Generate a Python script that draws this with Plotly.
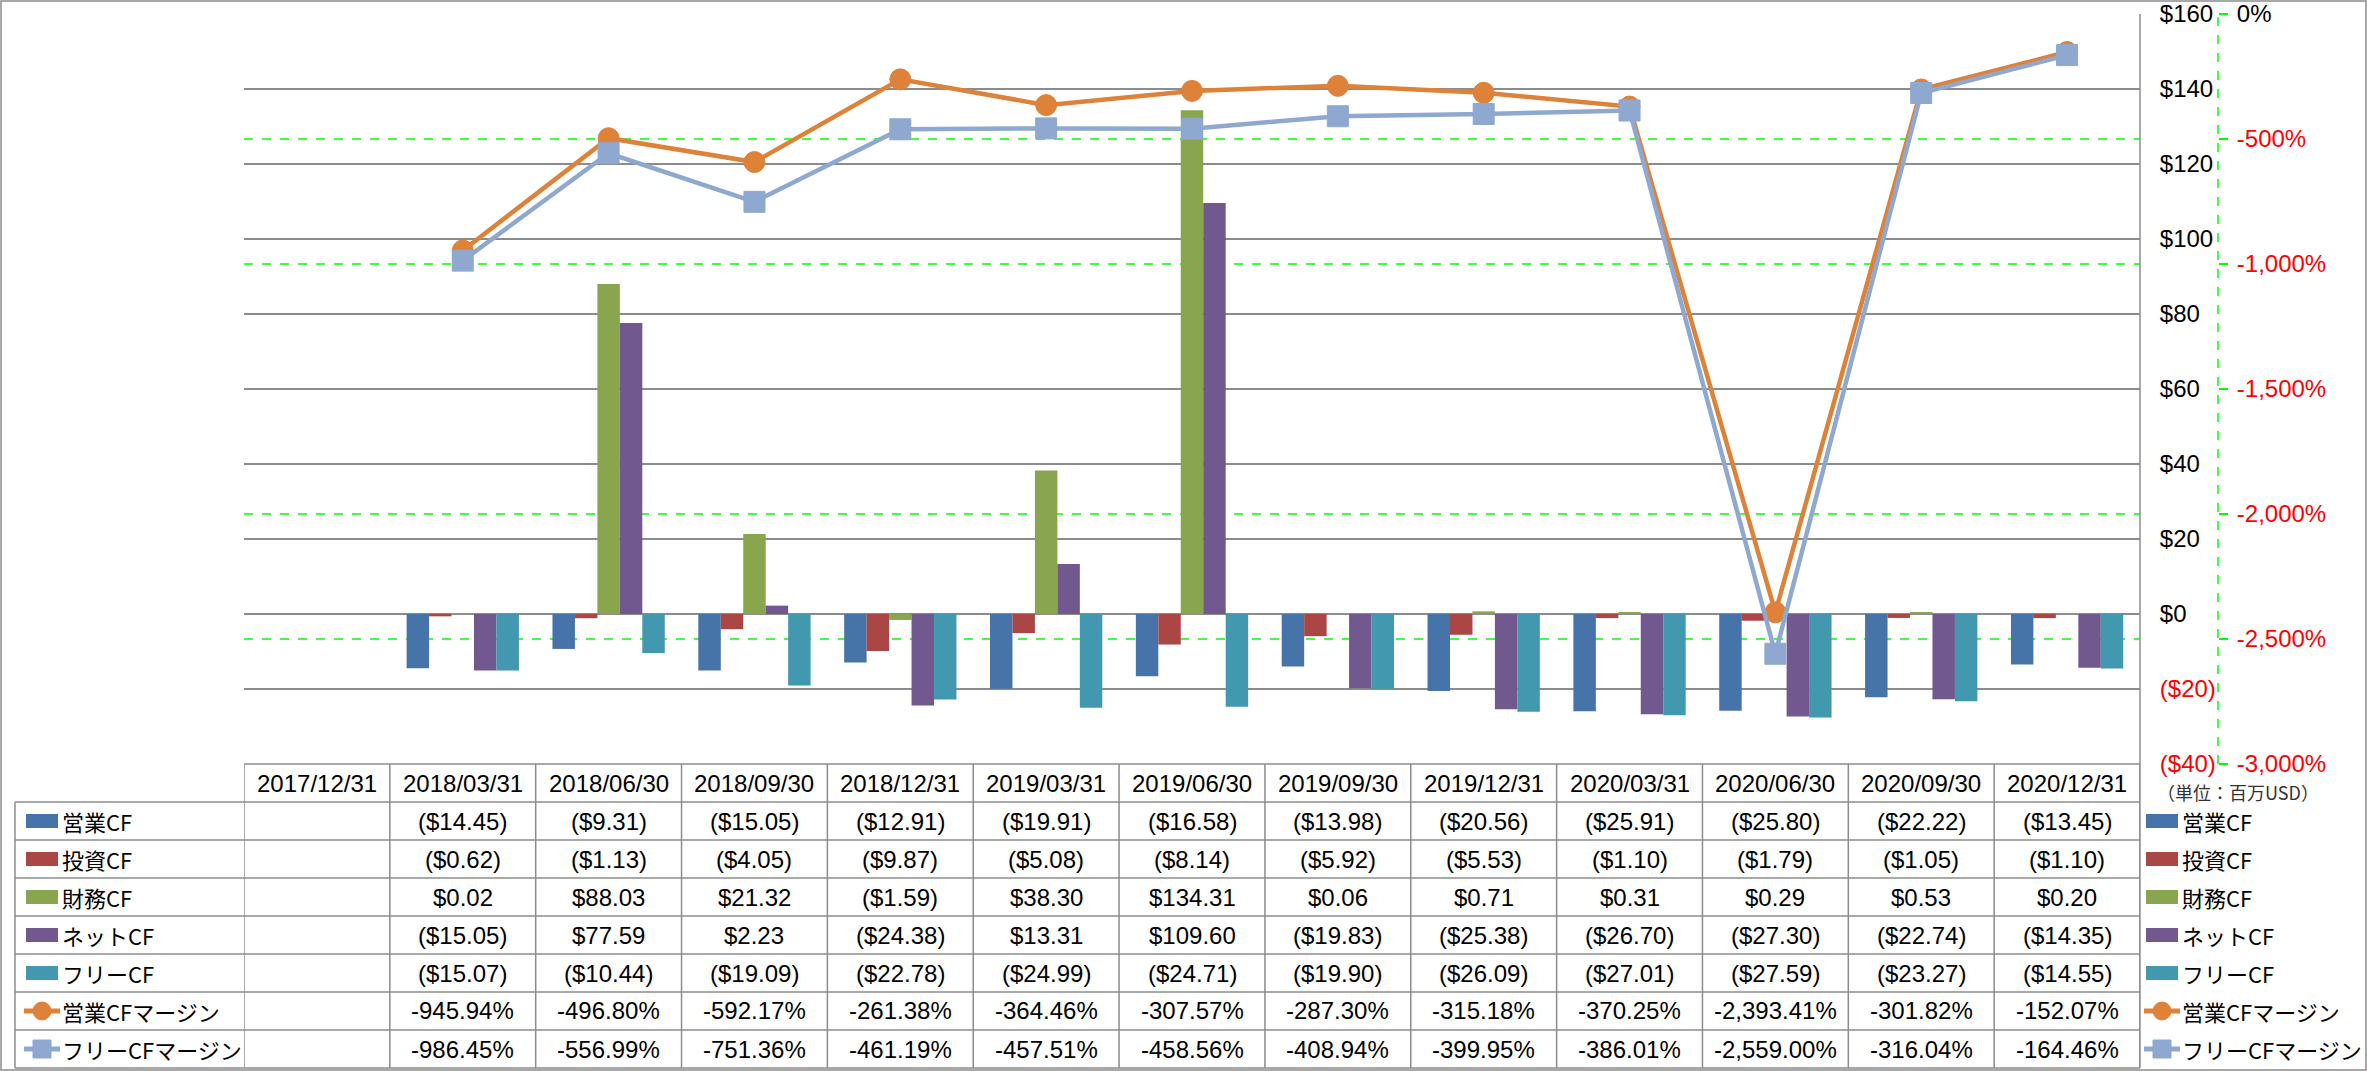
import plotly.graph_objects as go

dates = ["2017/12/31", "2018/03/31", "2018/06/30", "2018/09/30", "2018/12/31",
         "2019/03/31", "2019/06/30", "2019/09/30", "2019/12/31", "2020/03/31",
         "2020/06/30", "2020/09/30", "2020/12/31"]

op_cf = [None, -14.45, -9.31, -15.05, -12.91, -19.91, -16.58, -13.98, -20.56, -25.91, -25.80, -22.22, -13.45]
inv_cf = [None, -0.62, -1.13, -4.05, -9.87, -5.08, -8.14, -5.92, -5.53, -1.10, -1.79, -1.05, -1.10]
fin_cf = [None, 0.02, 88.03, 21.32, -1.59, 38.30, 134.31, 0.06, 0.71, 0.31, 0.29, 0.53, 0.20]
net_cf = [None, -15.05, 77.59, 2.23, -24.38, 13.31, 109.60, -19.83, -25.38, -26.70, -27.30, -22.74, -14.35]
free_cf = [None, -15.07, -10.44, -19.09, -22.78, -24.99, -24.71, -19.90, -26.09, -27.01, -27.59, -23.27, -14.55]
op_margin = [None, -945.94, -496.80, -592.17, -261.38, -364.46, -307.57, -287.30, -315.18, -370.25, -2393.41, -301.82, -152.07]
free_margin = [None, -986.45, -556.99, -751.36, -461.19, -457.51, -458.56, -408.94, -399.95, -386.01, -2559.00, -316.04, -164.46]

bar_series = [
    ("営業CF", op_cf, "#4673A8"),
    ("投資CF", inv_cf, "#AA4644"),
    ("財務CF", fin_cf, "#89A54E"),
    ("ネットCF", net_cf, "#71588F"),
    ("フリーCF", free_cf, "#4198AF"),
]
line_series = [
    ("営業CFマージン", op_margin, "#DE8139", "circle"),
    ("フリーCFマージン", free_margin, "#8EA8D0", "square"),
]

usd_ticks = list(range(-40, 161, 20))
pct_ticks = list(range(-3000, 1, 500))

FONT = "Liberation Sans, Noto Sans CJK JP, sans-serif"
JP_FONT = "Noto Sans CJK JP"
GRID = "#8C8C8C"
NUM_SIZE = 24
JP_SIZE = 22

# pixel frame: plot area is L..R, T..B; the paper extends to PR so the % axis fits in it
FW, FH = 2367, 1071
L, R, T, B = 244, 2140, 14, 764
PR = 2300
PW, H = PR - L, B - T
ROW_H = 38


def px(x):
    return (x - L) / PW


def py(y):
    return (B - y) / H


def money(v):
    if v is None:
        return ""
    return f"${v:,.2f}" if v >= 0 else f"(${-v:,.2f})"


def pct(v):
    if v is None:
        return ""
    return f"{v:,.2f}%"


def red(s, cond):
    return f'<span style="color:red">{s}</span>' if cond else s


fig = go.Figure()

for name, vals, col in bar_series:
    fig.add_trace(go.Bar(x=dates, y=vals, name=name, marker=dict(color=col, line=dict(width=0)),
                         showlegend=False))

for name, vals, col, sym in line_series:
    fig.add_trace(go.Scatter(x=dates, y=vals, name=name, yaxis="y2", mode="lines+markers",
                             line=dict(color=col, width=4.5),
                             marker=dict(symbol=sym, size=21, color=col, line=dict(color=col, width=1)),
                             showlegend=False))

shapes = []
annotations = []

# green dashed gridlines for the % axis
for v in pct_ticks[1:-1]:
    shapes.append(dict(type="line", xref="x domain", yref="y2", x0=0, x1=1, y0=v, y1=v,
                       line=dict(color="#00FF00", width=1.5, dash="dash"), layer="below"))

# % axis line (dashed green)
ax2_pos = px(2218)
shapes.append(dict(type="line", xref="paper", yref="paper", x0=ax2_pos, x1=ax2_pos, y0=0, y1=1,
                   line=dict(color="#00FF00", width=1.5, dash="dash")))

# plot right border, running down through the table
shapes.append(dict(type="line", xref="paper", yref="paper", x0=px(R), x1=px(R), y0=1, y1=py(1068),
                   line=dict(color=GRID, width=1.5)))

# table grid
table_rows = [(n, [money(v) for v in vals], ("bar", c)) for n, vals, c in bar_series]
table_rows += [(n, [pct(v) for v in vals], ("line", c, s)) for n, vals, c, s in line_series]

table_bottom = B + ROW_H * (len(table_rows) + 1)
shapes.append(dict(type="line", xref="paper", yref="paper", x0=0, x1=px(R), y0=py(B), y1=py(B),
                   line=dict(color=GRID, width=1.5)))
for k in range(len(table_rows) + 1):
    yy = py(B + ROW_H * (k + 1))
    shapes.append(dict(type="line", xref="paper", yref="paper", x0=px(15), x1=px(R), y0=yy, y1=yy,
                       line=dict(color=GRID, width=1.5)))
for i in range(len(dates) + 1):
    shapes.append(dict(type="line", xref="x", yref="paper", x0=i - 0.5, x1=i - 0.5,
                       y0=py(B), y1=py(table_bottom), line=dict(color=GRID, width=1.5)))
shapes.append(dict(type="line", xref="paper", yref="paper", x0=px(15), x1=px(15),
                   y0=py(B + ROW_H), y1=py(table_bottom), line=dict(color=GRID, width=1.5)))

# outer border
shapes.append(dict(type="rect", xref="paper", yref="paper", x0=px(1), x1=px(FW - 1), y0=py(1), y1=py(FH - 1),
                   line=dict(color=GRID, width=1.5)))

# header dates
for d in dates:
    annotations.append(dict(xref="x", yref="paper", x=d, y=py(B + ROW_H / 2), text=d, showarrow=False,
                            xanchor="center", yanchor="middle", font=dict(size=NUM_SIZE, color="black")))

annotations.append(dict(xref="paper", yref="paper", x=px(2155), y=py(792), text="（単位：百万USD）",
                        showarrow=False, xanchor="left", yanchor="middle",
                        font=dict(size=18, color="#333333", family=JP_FONT)))


def legend_key(x0, yc, spec):
    if spec[0] == "bar":
        shapes.append(dict(type="rect", xref="paper", yref="paper", x0=px(x0), x1=px(x0 + 32),
                           y0=py(yc - 7), y1=py(yc + 7), fillcolor=spec[1], line=dict(width=0)))
    else:
        col, sym = spec[1], spec[2]
        shapes.append(dict(type="line", xref="paper", yref="paper", x0=px(x0 - 2), x1=px(x0 + 34),
                           y0=py(yc), y1=py(yc), line=dict(color=col, width=5)))
        cx = x0 + 16
        shapes.append(dict(type="circle" if sym == "circle" else "rect", xref="paper", yref="paper",
                           x0=px(cx - 9), x1=px(cx + 9), y0=py(yc - 9), y1=py(yc + 9),
                           fillcolor=col, line=dict(color=col, width=1)))


for r, (name, cells, spec) in enumerate(table_rows):
    yc = B + ROW_H * (r + 1) + ROW_H / 2
    for d, txt in zip(dates, cells):
        if txt:
            annotations.append(dict(xref="x", yref="paper", x=d, y=py(yc), text=txt, showarrow=False,
                                    xanchor="center", yanchor="middle",
                                    font=dict(size=NUM_SIZE, color="black")))
    # left column of the table
    legend_key(26, yc, spec)
    annotations.append(dict(xref="paper", yref="paper", x=px(60), y=py(yc), text=name, showarrow=False,
                            xanchor="left", yanchor="middle",
                            font=dict(size=JP_SIZE, color="black", family=JP_FONT)))
    # right legend
    legend_key(2146, yc, spec)
    annotations.append(dict(xref="paper", yref="paper", x=px(2180), y=py(yc), text=name, showarrow=False,
                            xanchor="left", yanchor="middle",
                            font=dict(size=JP_SIZE, color="black", family=JP_FONT)))

fig.update_layout(
    width=FW, height=FH,
    margin=dict(l=L, r=FW - PR, t=T, b=FH - B, autoexpand=False),
    paper_bgcolor="white", plot_bgcolor="white",
    font=dict(family=FONT, size=NUM_SIZE, color="black"),
    barmode="group", bargap=0.23, bargroupgap=0,
    xaxis=dict(type="category", domain=[0, px(R)], range=[-0.5, len(dates) - 0.5], showticklabels=False,
               showgrid=False, zeroline=False, showline=False, ticks="", automargin=False),
    yaxis=dict(side="right", range=[-40, 160], tickvals=usd_ticks,
               ticktext=[red(f"${v}" if v >= 0 else f"(${-v})", v < 0) for v in usd_ticks],
               showgrid=True, gridcolor=GRID, gridwidth=1.5, zeroline=False, showline=False,
               ticks="outside", ticklen=14, tickcolor="rgba(0,0,0,0)", automargin=False,
               tickfont=dict(size=NUM_SIZE, color="black")),
    yaxis2=dict(overlaying="y", side="right", anchor="free", position=ax2_pos, range=[-3000, 0],
                tickvals=pct_ticks,
                ticktext=[red(f"{v:,}%", v < 0) for v in pct_ticks],
                showgrid=False, zeroline=False, showline=False, automargin=False,
                ticks="outside", ticklen=9, tickcolor="#00FF00", tickwidth=1.5,
                ticklabelstandoff=4, tickfont=dict(size=NUM_SIZE, color="black")),
    shapes=shapes, annotations=annotations,
)

fig.write_html("out.html", config={"displayModeBar": False},
               post_script="document.body.style.margin='0';")
